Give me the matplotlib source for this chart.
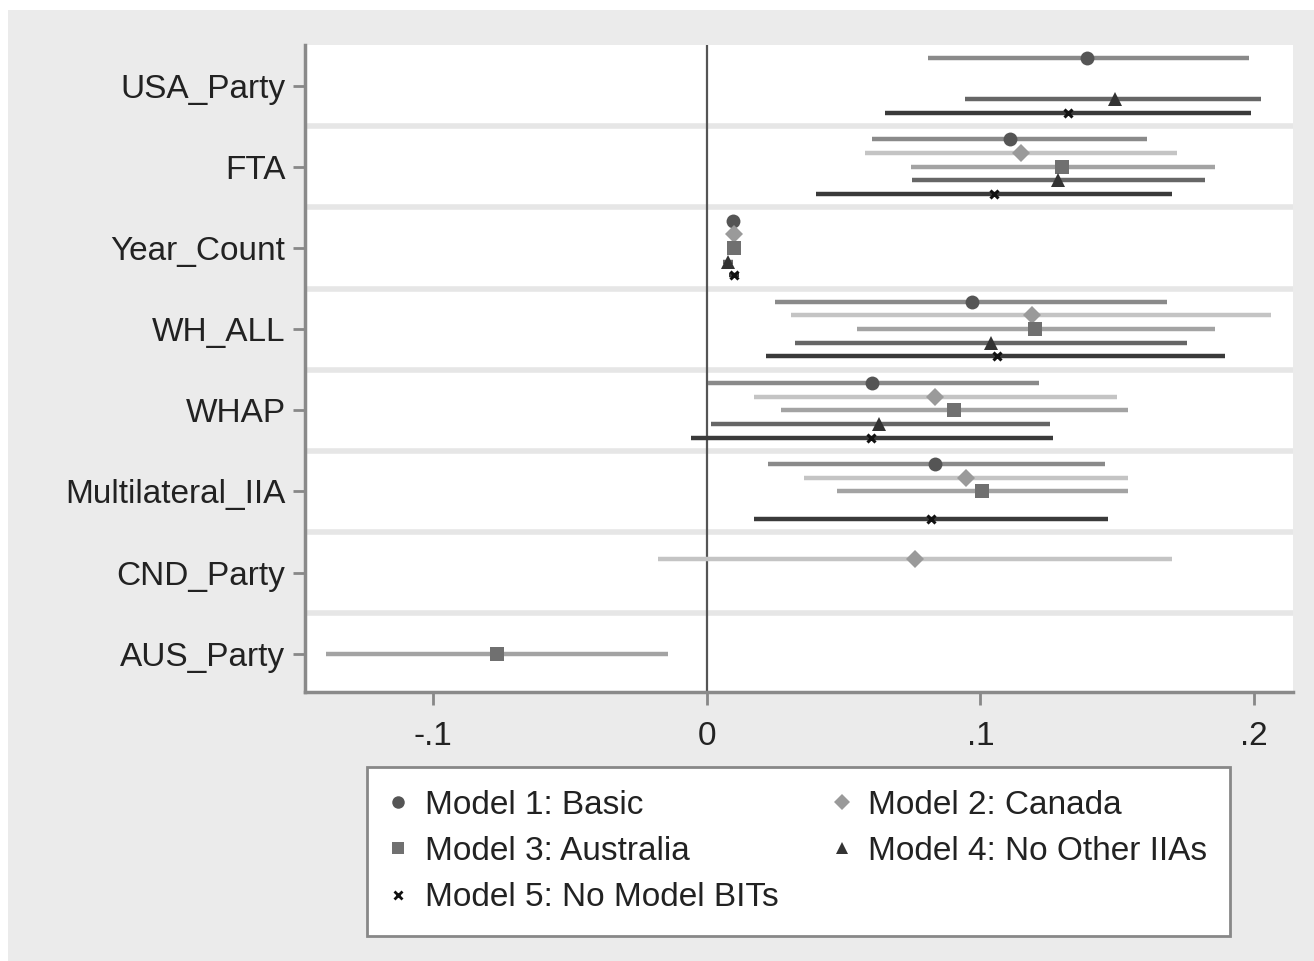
import numpy as np
import matplotlib
matplotlib.use("Agg")
import matplotlib.pyplot as plt
from matplotlib.patches import Rectangle
from matplotlib.lines import Line2D

plt.rcParams["font.family"] = ["Liberation Sans", "DejaVu Sans"]

# coefficient rows, top to bottom
variables = ["USA_Party", "FTA", "Year_Count", "WH_ALL", "WHAP",
             "Multilateral_IIA", "CND_Party", "AUS_Party"]
models = ["Model 1: Basic", "Model 2: Canada", "Model 3: Australia",
          "Model 4: No Other IIAs", "Model 5: No Model BITs"]

nan = np.nan
# point estimates, one list per model (nan = not in model)
m1_coef = [0.139, 0.111, 0.0098, 0.097, 0.0605, 0.0835, nan, nan]
m2_coef = [nan, 0.115, 0.0100, 0.119, 0.0833, 0.0947, 0.0761, nan]
m3_coef = [nan, 0.130, 0.0100, 0.120, 0.0905, 0.1007, nan, -0.0764]
m4_coef = [0.149, 0.1285, 0.0079, 0.104, 0.063, nan, nan, nan]
m5_coef = [0.132, 0.105, 0.0101, 0.106, 0.060, 0.0821, nan, nan]

# 95% confidence bounds
m1_lo = [0.081, 0.0605, 0.0080, 0.0251, 0.0004, 0.0223, nan, nan]
m1_hi = [0.198, 0.161, 0.0116, 0.168, 0.1216, 0.1457, nan, nan]
m2_lo = [nan, 0.058, 0.0082, 0.0309, 0.0172, 0.0354, -0.0177, nan]
m2_hi = [nan, 0.1717, 0.0118, 0.206, 0.150, 0.1538, 0.170, nan]
m3_lo = [nan, 0.0745, 0.0082, 0.0551, 0.027, 0.0477, nan, -0.1392]
m3_hi = [nan, 0.1858, 0.0118, 0.1858, 0.154, 0.1538, nan, -0.014]
m4_lo = [0.0945, 0.075, 0.0061, 0.0323, 0.0015, nan, nan, nan]
m4_hi = [0.2025, 0.182, 0.0097, 0.1756, 0.1256, nan, nan, nan]
m5_lo = [0.065, 0.040, 0.0083, 0.0216, -0.0056, 0.0172, nan, nan]
m5_hi = [0.1987, 0.170, 0.0119, 0.1894, 0.1266, 0.1466, nan, nan]

xticks = [-0.1, 0, 0.1, 0.2]
xticklabels = ["-.1", "0", ".1", ".2"]

coefs = [m1_coef, m2_coef, m3_coef, m4_coef, m5_coef]
los = [m1_lo, m2_lo, m3_lo, m4_lo, m5_lo]
his = [m1_hi, m2_hi, m3_hi, m4_hi, m5_hi]

markers = ["o", "D", "s", "^", "x"]
msizes = [10, 9, 10, 10, 6]
mcolors = ["#555555", "#9a9a9a", "#707070", "#333333", "#111111"]
cicolors = ["#8a8a8a", "#c4c4c4", "#a3a3a3", "#666666", "#3a3a3a"]

fig = plt.figure(figsize=(13.14, 9.61), dpi=100, facecolor="white")
fig.patches.append(Rectangle((8 / 1314, 0), 1, 1 - 10 / 961, transform=fig.transFigure,
                             facecolor="#ebebeb", edgecolor="none", zorder=-5))

ax = fig.add_axes([305 / 1314, 1 - 692 / 961, (1293 - 305) / 1314, (692 - 45) / 961])
ax.set_facecolor("white")

ypos = np.arange(1, len(variables) + 1)
offset = 0.168
for k in range(len(models)):
    y = ypos + (k - 2) * offset
    c = np.array(coefs[k])
    lo = np.array(los[k])
    hi = np.array(his[k])
    ok = ~np.isnan(c)
    ax.hlines(y[ok], lo[ok], hi[ok], color=cicolors[k], lw=3.2, zorder=2)
    mew = 2.2 if markers[k] == "x" else 0
    ax.plot(c[ok], y[ok], ls="none", marker=markers[k], ms=msizes[k],
            color=mcolors[k], mew=mew, zorder=3)

# separators between coefficient groups
for b in ypos[:-1] + 0.5:
    ax.axhline(b, color="#e6e6e6", lw=4, zorder=1)
ax.axvline(0, color="#555555", lw=1.6, zorder=1.5)

ax.set_xlim(-0.1467, 0.2142)
ax.set_ylim(len(variables) + 0.47, 0.5)
ax.set_yticks(ypos)
ax.set_yticklabels(variables)
ax.set_xticks(xticks)
ax.set_xticklabels(xticklabels)
ax.tick_params(axis="both", labelsize=24, colors="#888888", labelcolor="#222222",
               width=2, length=9)
ax.tick_params(axis="y", pad=5)
ax.tick_params(axis="x", pad=12)
for s in ["top", "right"]:
    ax.spines[s].set_visible(False)
for s in ["left", "bottom"]:
    ax.spines[s].set_color("#8a8a8a")
    ax.spines[s].set_linewidth(2.5)

handles = [Line2D([], [], ls="none", marker=markers[k], ms=msizes[k] * 0.9,
                  color=mcolors[k], mew=(2 if markers[k] == "x" else 0))
           for k in range(len(models))]
order = [0, 2, 4, 1, 3]
x0, x1 = 367 / 1314, 1230 / 1314
ytop = 1 - 767 / 961
leg = fig.legend([handles[i] for i in order], [models[i] for i in order],
                 ncol=2, loc="upper left", mode="expand",
                 bbox_to_anchor=(x0, ytop - 0.2, x1 - x0, 0.2), borderaxespad=0,
                 fontsize=24, frameon=True, fancybox=False, edgecolor="#888888",
                 facecolor="white", framealpha=1,
                 handlelength=0.5, handletextpad=0.55, columnspacing=1.5,
                 labelspacing=0.46, borderpad=0.68)
leg.get_frame().set_linewidth(2)
for t in leg.get_texts():
    t.set_color("#222222")

fig.savefig("out.png", dpi=100, facecolor=fig.get_facecolor())
